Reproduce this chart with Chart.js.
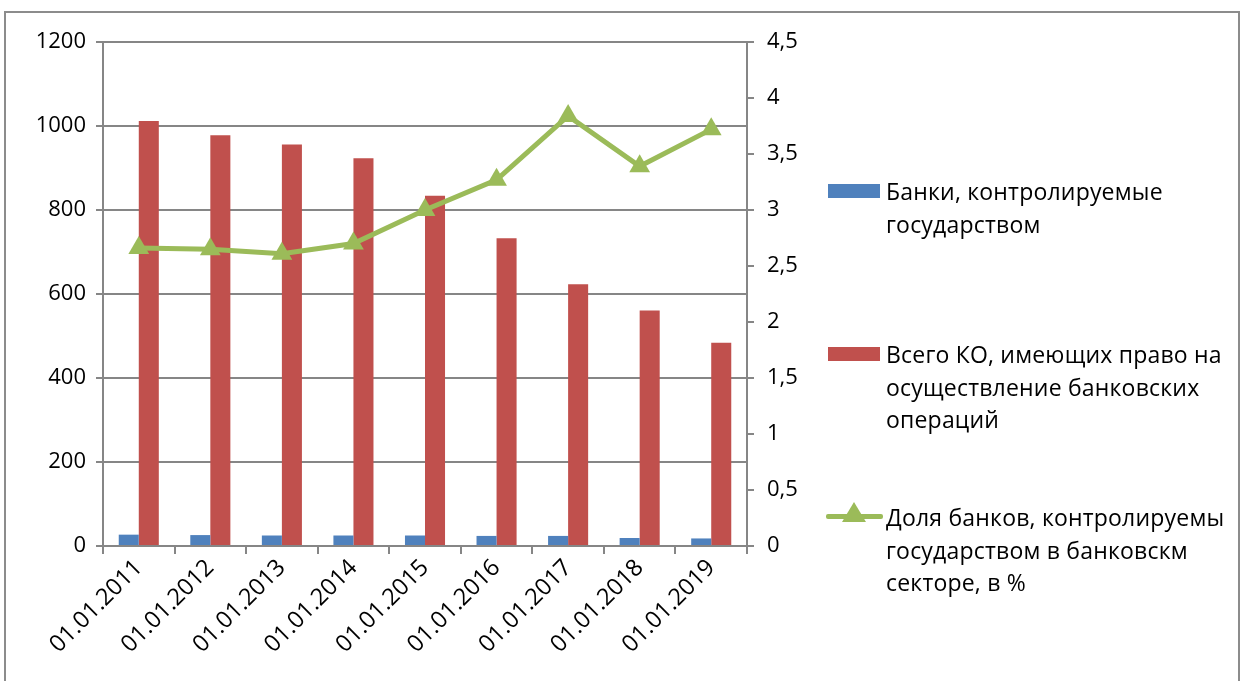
<!DOCTYPE html>
<html lang="ru">
<head>
<meta charset="utf-8">
<script src="https://cdn.jsdelivr.net/npm/chart.js@4.4.1/dist/chart.umd.min.js"></script>
<style>
    body { margin: 0; background: #fff; width: 1245px; height: 681px; overflow: hidden; position: relative; font-family: "Open Sans", sans-serif; }
    #frame { position: absolute; left: 4px; top: 11px; width: 1236px; height: 720px; border: 2px solid #8c8c8c; box-sizing: border-box; }
    #wrap { position: absolute; left: 0; top: 0; width: 1245px; height: 681px; }
    .leg { position: absolute; left: 886px; font-size: 23px; letter-spacing: 0.2px; line-height: 32.5px; color: #000; white-space: nowrap; }
    .sw { position: absolute; left: 828px; width: 52px; height: 14px; }
    .gl { position: absolute; left: 826px; width: 57px; height: 5px; background: #9BBB59; border-radius: 2px; }
    .tri { position: absolute; width: 0; height: 0; border-left: 12px solid transparent; border-right: 12px solid transparent; border-bottom: 20px solid #9BBB59; }
</style>
</head>
<body>
<div id="frame"></div>
<div id="wrap"><canvas id="chart"></canvas></div>

<div class="sw" style="top:184px;background:#4F81BD"></div>
<div class="leg" style="top:175px">Банки, контролируемые<br>государством</div>

<div class="sw" style="top:347px;background:#C0504D"></div>
<div class="leg" style="top:338px">Всего КО, имеющих право на<br>осуществление банковских<br>операций</div>

<div class="gl" style="top:514px"></div>
<div class="tri" style="left:842px;top:502px"></div>
<div class="leg" style="top:501px">Доля банков, контролируемы<br>государством в банковскм<br>секторе, в %</div>

<script>
const categorias = ['01.01.2011', '01.01.2012', '01.01.2013', '01.01.2014', '01.01.2015', '01.01.2016', '01.01.2017', '01.01.2018', '01.01.2019'];
const bancosGos = [27, 26, 25, 25, 25, 24, 24, 19, 18];
const bancosTotal = [1012, 978, 956, 923, 834, 733, 623, 561, 484];
const parteGos = [2.66, 2.65, 2.61, 2.70, 3.00, 3.27, 3.84, 3.39, 3.72];

const cinza = '#868686';
const fonte = { family: '"Open Sans", sans-serif', size: 22 };

function criarGrafico() {
    const ctx = document.getElementById('chart');

    new Chart(ctx, {
        data: {
            labels: categorias,
            datasets: [
                {
                    type: 'bar',
                    label: 'Банки, контролируемые государством',
                    data: bancosGos,
                    backgroundColor: '#4F81BD',
                    yAxisID: 'y',
                    order: 1,
                    barPercentage: 1,
                    categoryPercentage: 0.56
                },
                {
                    type: 'bar',
                    label: 'Всего КО, имеющих право на осуществление банковских операций',
                    data: bancosTotal,
                    backgroundColor: '#C0504D',
                    yAxisID: 'y',
                    order: 1,
                    barPercentage: 1,
                    categoryPercentage: 0.56
                },
                {
                    type: 'line',
                    label: 'Доля банков, контролируемы государством в банковскм секторе, в %',
                    data: parteGos,
                    borderColor: '#9BBB59',
                    backgroundColor: '#9BBB59',
                    borderWidth: 5,
                    pointStyle: 'triangle',
                    pointRadius: 12,
                    pointBorderWidth: 0,
                    tension: 0,
                    yAxisID: 'y2',
                    order: 0
                }
            ]
        },
        options: {
            responsive: false,
            animation: false,
            devicePixelRatio: 1,
            layout: { padding: { top: 42, left: 0, right: 438, bottom: 0 } },
            plugins: {
                legend: { display: false },
                tooltip: { enabled: false }
            },
            scales: {
                x: {
                    offset: true,
                    afterFit: (axis) => { axis.height = 135; },
                    grid: { offset: true, drawOnChartArea: false, drawTicks: true, tickLength: 8, color: cinza, lineWidth: 2 },
                    border: { color: cinza, width: 2 },
                    ticks: { color: '#000', font: { family: fonte.family, size: 23.5 }, maxRotation: 45, minRotation: 45, autoSkip: false, padding: 0 }
                },
                y: {
                    position: 'left',
                    min: 0,
                    max: 1200,
                    afterFit: (axis) => { axis.width = 103; },
                    grid: { color: cinza, lineWidth: 2, tickLength: 7 },
                    border: { color: cinza, width: 2 },
                    ticks: { stepSize: 200, color: '#000', font: fonte, padding: 10, callback: (v) => String(v) }
                },
                y2: {
                    position: 'right',
                    min: 0,
                    max: 4.5,
                    afterFit: (axis) => { axis.width = 60; },
                    grid: { drawOnChartArea: false, color: cinza, lineWidth: 2, tickLength: 7 },
                    border: { color: cinza, width: 2 },
                    ticks: {
                        stepSize: 0.5,
                        color: '#000',
                        font: fonte,
                        padding: 13,
                        callback: (v) => String(v).replace('.', ',')
                    }
                }
            }
        }
    });
}

document.getElementById('chart').width = 1245;
document.getElementById('chart').height = 681;
document.addEventListener('DOMContentLoaded', criarGrafico);
</script>
</body>
</html>
